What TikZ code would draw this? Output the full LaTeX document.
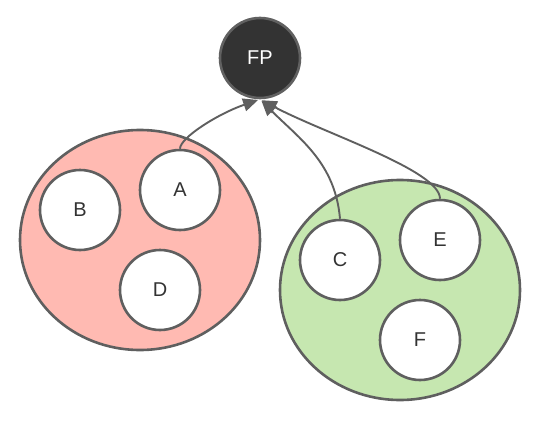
\documentclass[tikz,border=0pt]{standalone}
\usepackage{fontspec}
\setmainfont{Liberation Sans}
\usepackage{xcolor}
\usepackage{tikz}
\usetikzlibrary{
    positioning,
    arrows.meta,
    shapes.geometric
}
\definecolor{linegray}{HTML}{5F5F5F}
\definecolor{darkfill}{HTML}{333333}
\definecolor{groupred}{HTML}{FFBAB2}
\definecolor{groupgreen}{HTML}{C6E7B0}
\tikzset{
    member/.style={
        circle, draw=linegray, line width=2.6pt, fill=white,
        minimum size=80pt, inner sep=0pt,
        font=\fontsize{20}{24}\selectfont, text=darkfill
    },
    group/.style={
        ellipse, draw=linegray, line width=2.6pt,
        minimum width=240pt, minimum height=220pt, inner sep=0pt
    },
    link/.style={
        -{Triangle[length=15pt, width=13pt]}, line width=1.9pt, draw=linegray,
        shorten >=2pt
    }
}

\begin{document}
\begin{tikzpicture}[
        x=1pt, y=-1pt,
        root/.style={member, fill=darkfill, draw=black!62, text=white}
    ]

        \useasboundingbox (0,0) rectangle (540,420);

        % Top
        \node[root] (fp) at (260,58) {FP};

        % Left group
        \node[group, fill=groupred] (left_group) at (140,240) {};
        \node[member] (b) at (80,210) {B};
        \node[member] (a) at (180,190) {A};
        \node[member] (d) at (160,290) {D};

        % Right group
        \node[group, fill=groupgreen] (right_group) at (400,290) {};
        \node[member] (c) at (340,260) {C};
        \node[member] (e) at (440,240) {E};
        \node[member] (f) at (420,340) {F};

        % Arrows
        \draw[link] (a.north) to[out=90, in=199, out looseness=0.3, in looseness=1.2] (fp.south);
        \draw[link] (c.north) to[out=95, in=-45] (fp.south);
        \draw[link] (e.north) to[out=90, in=-28, out looseness=0.35, in looseness=0.9] (fp.south);

    \end{tikzpicture}
\end{document}
